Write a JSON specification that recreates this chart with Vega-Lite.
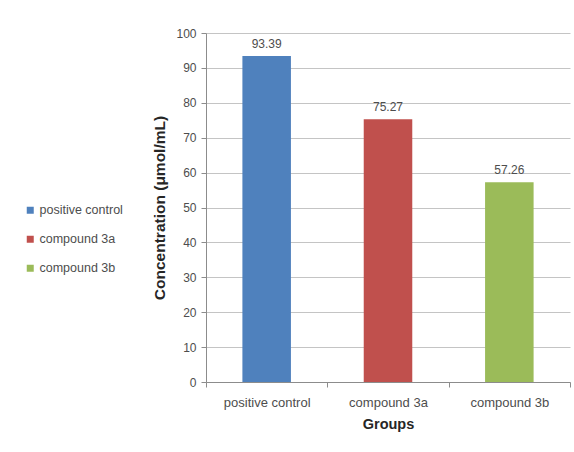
{
  "$schema": "https://vega.github.io/schema/vega-lite/v6.json",
  "autosize": "none",
  "width": 364,
  "height": 349,
  "padding": {"left": 206, "top": 33, "right": 4, "bottom": 70},
  "background": "white",
  "config": {
    "font": "Liberation Sans",
    "view": {"stroke": null},
    "axis": {
      "labelColor": "#4d4d4d",
      "titleColor": "#262626",
      "domainColor": "#8c8c8c",
      "tickColor": "#8c8c8c",
      "gridColor": "#c4c4c4",
      "tickSize": 5
    }
  },
  "data": {
    "values": [
      {"group": "positive control", "concentration": 93.39},
      {"group": "compound 3a", "concentration": 75.27},
      {"group": "compound 3b", "concentration": 57.26}
    ]
  },
  "encoding": {
    "x": {
      "field": "group",
      "type": "nominal",
      "sort": null,
      "scale": {"paddingInner": 0, "paddingOuter": 0},
      "axis": {
        "title": "Groups",
        "titleFontSize": 14.5,
        "titleFontWeight": "bold",
        "titlePadding": 8,
        "labelAngle": 0,
        "labelFontSize": 13,
        "labelPadding": 9,
        "tickBand": "extent",
        "grid": false
      }
    },
    "y": {
      "field": "concentration",
      "type": "quantitative",
      "scale": {"domain": [0, 100]},
      "axis": {
        "title": "Concentration (μmol/mL)",
        "titleFontSize": 15.5,
        "titleFontWeight": "bold",
        "titlePadding": 8,
        "values": [0, 10, 20, 30, 40, 50, 60, 70, 80, 90, 100],
        "labelFontSize": 12,
        "labelPadding": 5,
        "grid": true
      }
    }
  },
  "layer": [
    {
      "mark": {"type": "bar", "width": {"band": 0.4}},
      "encoding": {
        "color": {
          "field": "group",
          "type": "nominal",
          "sort": null,
          "scale": {
            "domain": ["positive control", "compound 3a", "compound 3b"],
            "range": ["#4f81bd", "#c0504d", "#9bbb59"]
          },
          "legend": {
            "title": null,
            "orient": "none",
            "legendX": -182,
            "legendY": 171,
            "padding": 0,
            "symbolType": "square",
            "symbolSize": 49,
            "symbolStrokeWidth": 0,
            "labelFontSize": 12.5,
            "labelColor": "#4d4d4d",
            "labelOffset": 3,
            "rowPadding": 16
          }
        }
      }
    },
    {
      "mark": {"type": "text", "baseline": "bottom", "dy": -5, "fontSize": 12, "color": "#4d4d4d"},
      "encoding": {
        "text": {"field": "concentration", "type": "quantitative", "format": ".2f"}
      }
    }
  ]
}
